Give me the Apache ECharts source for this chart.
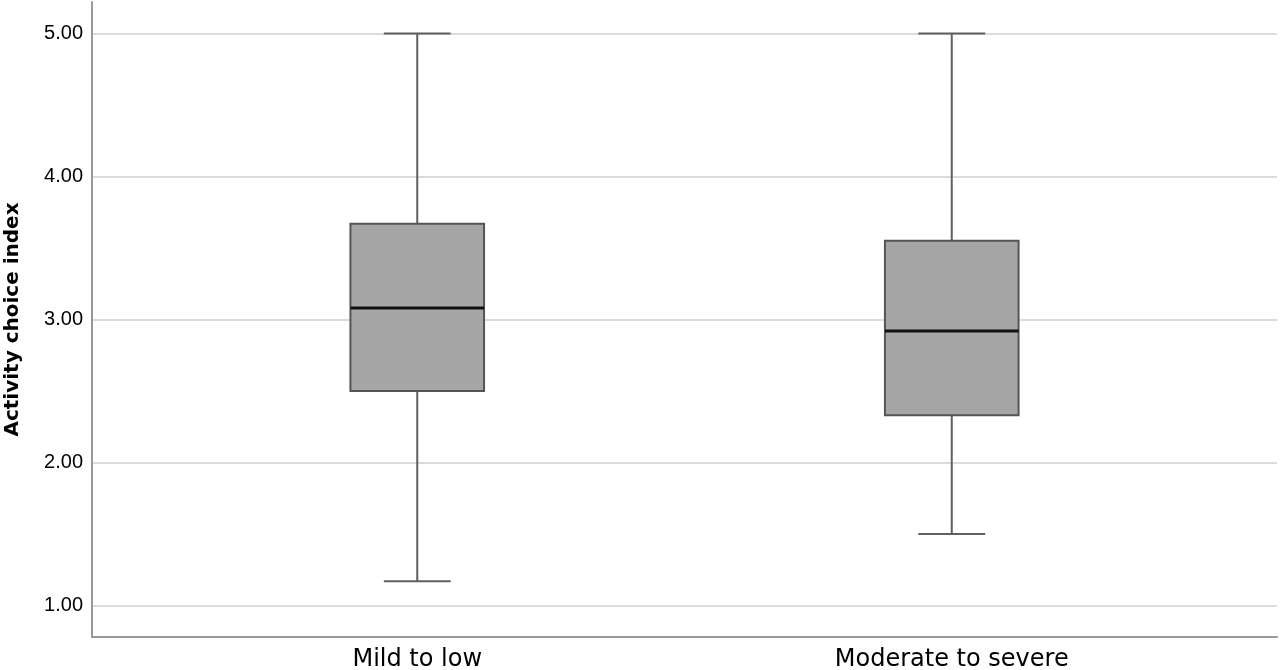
<!DOCTYPE html>
<html>
<head>
<meta charset="utf-8">
<script src="https://cdn.jsdelivr.net/npm/echarts@6/dist/echarts.min.js"></script>
<style>
html,body{margin:0;padding:0;background:#fff;}
#chart{width:1280px;height:670px;}
</style>
</head>
<body>
<div id="chart"></div>
<script>
const categories = ['Mild to low', 'Moderate to severe'];
const whiskerLow = [1.17, 1.50];
const q1 = [2.50, 2.33];
const median = [3.08, 2.92];
const q3 = [3.67, 3.55];
const whiskerHigh = [5.00, 5.00];
const yTicks = [1, 2, 3, 4, 5];

const boxData = categories.map((c, i) => [i, whiskerLow[i], q1[i], median[i], q3[i], whiskerHigh[i]]);

const chart = echarts.init(document.getElementById('chart'));

function renderBox(params, api) {
  const idx = api.value(0);
  const band = api.size([1, 0])[0];
  const boxHalf = band * 0.125;
  const capHalf = band * 0.0625;
  const pLow = api.coord([idx, api.value(1)]);
  const pQ1 = api.coord([idx, api.value(2)]);
  const pMed = api.coord([idx, api.value(3)]);
  const pQ3 = api.coord([idx, api.value(4)]);
  const pHigh = api.coord([idx, api.value(5)]);
  const cx = pMed[0];
  const whiskerStyle = { stroke: '#5f5f5f', lineWidth: 2 };
  return {
    type: 'group',
    children: [
      { type: 'line', shape: { x1: cx, y1: pQ3[1], x2: cx, y2: pHigh[1] }, style: whiskerStyle },
      { type: 'line', shape: { x1: cx, y1: pQ1[1], x2: cx, y2: pLow[1] }, style: whiskerStyle },
      { type: 'line', shape: { x1: cx - capHalf, y1: pHigh[1], x2: cx + capHalf, y2: pHigh[1] }, style: whiskerStyle },
      { type: 'line', shape: { x1: cx - capHalf, y1: pLow[1], x2: cx + capHalf, y2: pLow[1] }, style: whiskerStyle },
      { type: 'rect', shape: { x: cx - boxHalf, y: pQ3[1], width: boxHalf * 2, height: pQ1[1] - pQ3[1] },
        style: { fill: '#a6a6a6', stroke: '#555555', lineWidth: 2 } },
      { type: 'line', shape: { x1: cx - boxHalf, y1: pMed[1], x2: cx + boxHalf, y2: pMed[1] },
        style: { stroke: '#111111', lineWidth: 3 } }
    ]
  };
}

const yMin = 0.78, yMax = 5.22;

chart.setOption({
  animation: false,
  backgroundColor: '#ffffff',
  grid: [
    { left: 92, right: 3, top: 2, bottom: 33, containLabel: false, outerBoundsMode: 'none' },
    { left: 150, right: 61, top: 2, bottom: 33, containLabel: false, outerBoundsMode: 'none' }
  ],
  xAxis: [
    { type: 'value', gridIndex: 0, min: 0, max: 1, show: true,
      axisLine: { show: true, lineStyle: { color: '#999999', width: 2 } },
      axisTick: { show: false }, axisLabel: { show: false }, splitLine: { show: false } },
    { type: 'category', gridIndex: 1, data: categories,
      axisLine: { show: false }, axisTick: { show: false }, splitLine: { show: false },
      axisLabel: { color: '#000000', fontFamily: 'DejaVu Sans', fontSize: 24, margin: 11 } }
  ],
  yAxis: [
    { type: 'value', gridIndex: 0, min: yMin, max: yMax,
      name: 'Activity choice index', nameLocation: 'middle', nameGap: 69,
      nameTextStyle: { color: '#000000', fontFamily: 'DejaVu Sans', fontWeight: 'bold', fontSize: 20 },
      axisLine: { show: true, lineStyle: { color: '#999999', width: 2 } },
      axisTick: { show: false },
      axisLabel: { color: '#000000', fontFamily: 'Liberation Sans', fontSize: 20, margin: 9,
        formatter: v => yTicks.includes(Math.round(v * 1000) / 1000) ? v.toFixed(2) : '' },
      splitLine: { show: true, showMinLine: false, showMaxLine: false, lineStyle: { color: '#cfcfcf', width: 1.5 } } },
    { type: 'value', gridIndex: 1, min: yMin, max: yMax, show: false, splitLine: { show: false } }
  ],
  series: [
    { type: 'custom', xAxisIndex: 1, yAxisIndex: 1, renderItem: renderBox,
      encode: { x: 0, y: [1, 2, 3, 4, 5] }, data: boxData }
  ]
});
</script>
</body>
</html>
